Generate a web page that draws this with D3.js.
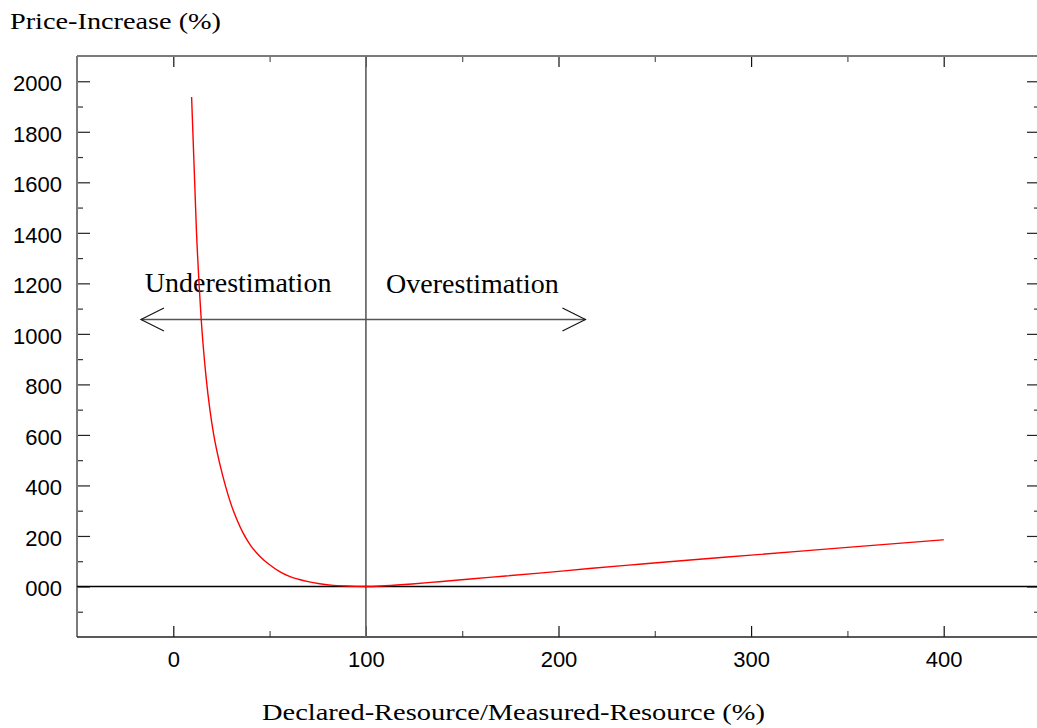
<!DOCTYPE html>
<html>
<head>
<meta charset="utf-8">
<script src="https://cdn.jsdelivr.net/npm/d3@7"></script>
<style>
  html, body { margin: 0; padding: 0; background: #fff; }
  svg { display: block; }
</style>
</head>
<body>
<svg id="chart" width="1037" height="728"></svg>
<script>
// ---- data ----
const ratio = [9.5, 12, 14.5, 17, 19, 21, 24, 27, 30, 33, 36, 40, 45, 50, 55, 60, 65, 70, 76, 83, 90, 95, 100, 110, 124, 138, 164, 190, 216, 242, 270, 300, 350, 400];
const priceIncrease = [1938, 1410, 1057, 830, 700, 600, 490, 400, 325, 265, 215, 164, 119, 86, 60, 41, 28.5, 19, 11, 4.5, 1.8, 0.5, 0, 3, 10, 19, 36, 53, 71, 88, 106, 124, 155, 185];
const xMajorTicks = [0, 100, 200, 300, 400];
const xMinorTicks = [50, 150, 250, 350];
const yMajorTicks = [0, 200, 400, 600, 800, 1000, 1200, 1400, 1600, 1800, 2000];
const yMinorTicks = [-100, 100, 300, 500, 700, 900, 1100, 1300, 1500, 1700, 1900];
const xDomain = [-50, 450];
const yDomain = [-200, 2100];
const referenceX = 100;
const referenceY = 0;
const arrowSpan = [-16.8, 214];
const arrowLevel = 1057;
const annotations = [
  { text: "Underestimation", x: -14.8, y: 1165 },
  { text: "Overestimation", x: 110.5, y: 1161 }
];
const yTitle = "Price-Increase (%)";
const xTitle = "Declared-Resource/Measured-Resource (%)";

(function () {
// ---- layout ----
const pLeft = 77, pRight = 1040, pTop = 56, pBottom = 637;
const svg = d3.select("#chart");
const x = d3.scaleLinear().domain(xDomain).range([pLeft, pRight]);
const y = d3.scaleLinear().domain(yDomain).range([pBottom, pTop]);

const sans = "'Liberation Sans', Arial, sans-serif";
const serif = "'Liberation Serif', 'Times New Roman', serif";

function styleAxis(g, color) {
  g.select(".domain").remove();
  g.selectAll(".tick line").attr("stroke", color).attr("stroke-width", 1.2);
  g.selectAll("text").attr("fill", "#000").style("font-family", sans).style("font-size", "22px");
}

// minor ticks
svg.append("g").attr("transform", `translate(${pLeft},0)`)
  .call(d3.axisLeft(y).tickValues(yMinorTicks).tickSize(-6).tickFormat(""))
  .call(g => styleAxis(g, "#333"));
svg.append("g").attr("transform", `translate(${pRight},0)`)
  .call(d3.axisRight(y).tickValues(yMinorTicks).tickSize(-6).tickFormat(""))
  .call(g => styleAxis(g, "#333"));
svg.append("g").attr("transform", `translate(0,${pBottom})`)
  .call(d3.axisBottom(x).tickValues(xMinorTicks).tickSize(-6).tickFormat(""))
  .call(g => styleAxis(g, "#555"));
svg.append("g").attr("transform", `translate(0,${pTop})`)
  .call(d3.axisTop(x).tickValues(xMinorTicks).tickSize(-6).tickFormat(""))
  .call(g => styleAxis(g, "#555"));

// major ticks
svg.append("g").attr("transform", `translate(${pLeft},0)`)
  .call(d3.axisLeft(y).tickValues(yMajorTicks).tickSize(-13).tickPadding(15)
    .tickFormat(d => d === 0 ? "000" : String(d)))
  .call(g => styleAxis(g, "#222"))
  .call(g => g.selectAll("text").attr("dy", "0.42em"));
svg.append("g").attr("transform", `translate(${pRight},0)`)
  .call(d3.axisRight(y).tickValues(yMajorTicks).tickSize(-13).tickFormat(""))
  .call(g => styleAxis(g, "#222"));
svg.append("g").attr("transform", `translate(0,${pBottom})`)
  .call(d3.axisBottom(x).tickValues(xMajorTicks).tickSize(-11).tickPadding(14).tickFormat(d3.format("d")))
  .call(g => styleAxis(g, "#111"));
svg.append("g").attr("transform", `translate(0,${pTop})`)
  .call(d3.axisTop(x).tickValues(xMajorTicks).tickSize(-11).tickFormat(""))
  .call(g => styleAxis(g, "#111"));

// frame
svg.append("line").attr("x1", pLeft).attr("x2", pRight).attr("y1", pTop).attr("y2", pTop)
  .attr("stroke", "#7a7a7a").attr("stroke-width", 2);
svg.append("line").attr("x1", pLeft).attr("x2", pLeft).attr("y1", pTop).attr("y2", pBottom)
  .attr("stroke", "#7a7a7a").attr("stroke-width", 2);
svg.append("line").attr("x1", pRight).attr("x2", pRight).attr("y1", pTop).attr("y2", pBottom)
  .attr("stroke", "#7a7a7a").attr("stroke-width", 2);
svg.append("line").attr("x1", pLeft).attr("x2", pRight).attr("y1", pBottom).attr("y2", pBottom)
  .attr("stroke", "#222").attr("stroke-width", 1.6);

// reference lines
svg.append("line").attr("x1", x(referenceX)).attr("x2", x(referenceX)).attr("y1", pTop).attr("y2", pBottom)
  .attr("stroke", "#6e6e6e").attr("stroke-width", 1.8);
svg.append("line").attr("x1", pLeft).attr("x2", pRight).attr("y1", y(referenceY)).attr("y2", y(referenceY))
  .attr("stroke", "#000").attr("stroke-width", 1.4);

// double arrow
const ay = y(arrowLevel);
svg.append("line").attr("x1", x(arrowSpan[0])).attr("x2", x(arrowSpan[1])).attr("y1", ay).attr("y2", ay)
  .attr("stroke", "#555").attr("stroke-width", 1.6);
const headLen = 23, headHalf = 11.5;
const lx = x(arrowSpan[0]), rx = x(arrowSpan[1]);
svg.append("path")
  .attr("d", `M${lx + headLen},${ay - headHalf}L${lx},${ay}L${lx + headLen},${ay + headHalf}`)
  .attr("fill", "none").attr("stroke", "#111").attr("stroke-width", 1.1);
svg.append("path")
  .attr("d", `M${rx - headLen},${ay - headHalf}L${rx},${ay}L${rx - headLen},${ay + headHalf}`)
  .attr("fill", "none").attr("stroke", "#111").attr("stroke-width", 1.1);

// annotation text
svg.selectAll("text.annot").data(annotations).enter().append("text")
  .attr("class", "annot")
  .attr("x", d => x(d.x)).attr("y", d => y(d.y))
  .style("font-family", serif).style("font-size", "28px").attr("fill", "#000")
  .text(d => d.text);

// curve
const pts = ratio.map((r, i) => [r, priceIncrease[i]]);
svg.append("path").datum(pts)
  .attr("fill", "none").attr("stroke", "#ff0000").attr("stroke-width", 1.4)
  .attr("d", d3.line().x(d => x(d[0])).y(d => y(d[1])).curve(d3.curveMonotoneX));

// titles
svg.append("text").attr("x", 10).attr("y", 28.5)
  .style("font-family", serif).style("font-size", "24px")
  .attr("textLength", 211).attr("lengthAdjust", "spacingAndGlyphs")
  .text(yTitle);
svg.append("text").attr("x", 262).attr("y", 720)
  .style("font-family", serif).style("font-size", "24px")
  .attr("textLength", 503).attr("lengthAdjust", "spacingAndGlyphs")
  .text(xTitle);
})();
</script>
</body>
</html>
